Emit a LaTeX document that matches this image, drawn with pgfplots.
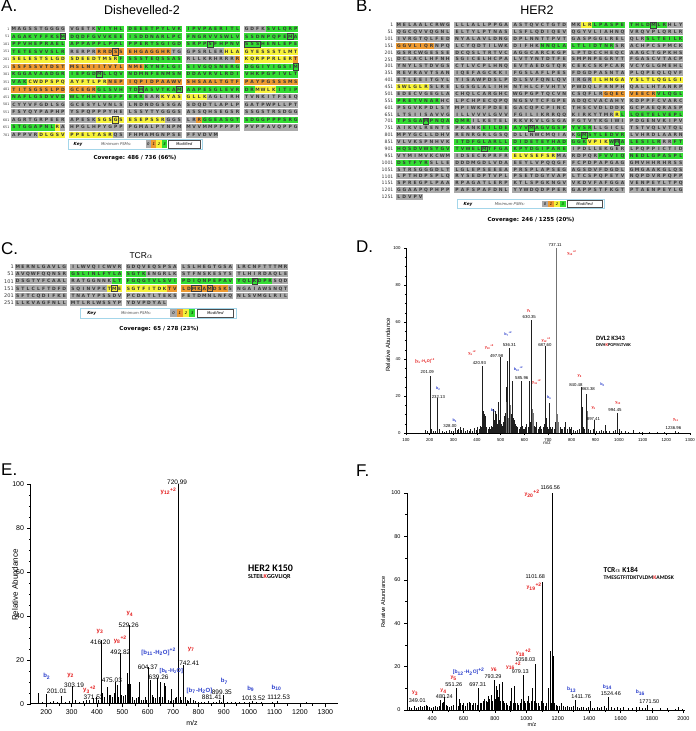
\documentclass[border=0pt]{standalone}
\usepackage{pgfplots}
\pgfplotsset{compat=1.18}
\usepackage{fontspec}
\setmainfont{Liberation Sans}
\newfontfamily\dvs{DejaVu Sans}
\newfontfamily\carl{Carlito}
\definecolor{sgray}{HTML}{ABABAB}
\definecolor{sgreen}{HTML}{33DD33}
\definecolor{syellow}{HTML}{F6F23A}
\definecolor{sorange}{HTML}{EE9A30}
\definecolor{seqtxt}{HTML}{383838}
\definecolor{keyblue}{HTML}{A4D6EA}
\definecolor{ionred}{HTML}{E41B1B}
\definecolor{ionblue}{HTML}{2A3ECC}
\newlength\cw \newlength\gw
\makeatletter
\def\seqrow#1{\seqrow@#1\relax}
\def\seqrow@#1{\ifx#1\relax\else\ifx#1|\hspace*{\gw}\else\makebox[\cw][c]{#1}\fi\expandafter\seqrow@\fi}
\makeatother
\def\seqfont{\dvs\bfseries\fontsize{4.5}{5}\selectfont}
\def\numsize{3.4}
\def\numfont{\dvs\fontsize{\numsize}{4}\selectfont}
\newcommand\srow[3]{%
 \node[anchor=east,inner sep=0pt,font=\numfont,text=seqtxt] at (axis cs:\numx,#1) {#2};
 \node[anchor=base west,inner sep=0pt,font=\seqfont,text=seqtxt,yshift=-1.6pt] at (axis cs:0,#1) {\seqrow{#3}};}
\newcommand\run[4]{\addplot[draw=#1,line width=\lw,forget plot] coordinates {(#2,#4) (#3,#4)};}
\newcommand\modb[3]{\draw[black!75,line width=0.5pt] ([yshift=-\mh]axis cs:#1,#3) rectangle ([yshift=\mh]axis cs:#2,#3);}
\newcommand\gaps[2]{%
 \addplot[draw=white,line width=\gw,forget plot] coordinates {(10.35,#1) (10.35,#2)};
 \addplot[draw=white,line width=\gw,forget plot] coordinates {(21.05,#1) (21.05,#2)};
 \addplot[draw=white,line width=\gw,forget plot] coordinates {(31.75,#1) (31.75,#2)};
 \addplot[draw=white,line width=\gw,forget plot] coordinates {(42.45,#1) (42.45,#2)};}
\newcommand\keybox[4]{%
 \begin{scope}[x=1pt,y=1pt,shift={(#1,#2)}]
 \draw[keyblue,line width=0.7pt,fill=white] (0,0) rectangle (#3,#4);
 \node[font=\dvs\bfseries\itshape\fontsize{4.2}{5}\selectfont] at ({0.075*#3},{#4/2}) {Key};
 \node[font=\dvs\itshape\fontsize{3.8}{5}\selectfont,text=black!70] at ({0.36*#3},{#4/2}) {Minimum PSMs:};
 \fill[sgray] ({0.58*#3},{0.12*#4}) rectangle ({0.62*#3},{0.88*#4});
 \fill[sorange] ({0.62*#3},{0.12*#4}) rectangle ({0.66*#3},{0.88*#4});
 \fill[syellow] ({0.66*#3},{0.12*#4}) rectangle ({0.70*#3},{0.88*#4});
 \fill[sgreen] ({0.70*#3},{0.12*#4}) rectangle ({0.74*#3},{0.88*#4});
 \node[font=\dvs\itshape\fontsize{3.8}{5}\selectfont] at ({0.60*#3},{#4/2}) {0};
 \node[font=\dvs\itshape\fontsize{3.8}{5}\selectfont] at ({0.64*#3},{#4/2}) {1};
 \node[font=\dvs\itshape\fontsize{3.8}{5}\selectfont] at ({0.68*#3},{#4/2}) {2};
 \node[font=\dvs\itshape\fontsize{3.8}{5}\selectfont] at ({0.72*#3},{#4/2}) {3};
 \draw[black!70,line width=0.4pt,fill=white] ({0.75*#3},{0.12*#4}) rectangle ({0.985*#3},{0.88*#4});
 \node[font=\dvs\itshape\fontsize{3.8}{5}\selectfont] at ({0.8675*#3},{#4/2}) {Modified};
 \end{scope}}
\newcommand\ion[3]{#1\textsubscript{#2}\textsuperscript{#3}}
\pgfplotsset{
 seqax/.style={scale only axis, anchor=north west, axis lines=none, y dir=reverse, clip=false, xmin=0, xmax=52.8},
 specax/.style={scale only axis, anchor=south west, axis x line*=bottom, axis y line*=left,
   x axis line style={-}, y axis line style={-}, tick align=outside, clip=false,
   ymin=0, ymax=100, ytick={0,20,...,100},
   /pgf/number format/assume math mode=true, /pgf/number format/1000 sep={},
   every tick/.style={black}},
}
\begin{document}
\begin{tikzpicture}
\useasboundingbox (0,0) rectangle (696pt,731pt);
% ---------- panel labels and titles
\node[anchor=north west,inner sep=0pt,font=\fontsize{17}{17}\selectfont] at (1pt,731pt) {A.};
\node[anchor=north west,inner sep=0pt,font=\fontsize{17}{17}\selectfont] at (356pt,731pt) {B.};
\node[anchor=north west,inner sep=0pt,font=\fontsize{17}{17}\selectfont] at (1pt,489pt) {C.};
\node[anchor=north west,inner sep=0pt,font=\fontsize{17}{17}\selectfont] at (356pt,490pt) {D.};
\node[anchor=north west,inner sep=0pt,font=\fontsize{17}{17}\selectfont] at (1pt,267pt) {E.};
\node[anchor=north west,inner sep=0pt,font=\fontsize{17}{17}\selectfont] at (356pt,266pt) {F.};
\node[font=\fontsize{12.5}{13}\selectfont] at (142pt,721pt) {Dishevelled-2};
\node[font=\fontsize{12.5}{13}\selectfont] at (537pt,720.5pt) {HER2};
\node[font=\fontsize{8.5}{9}\selectfont] at (141pt,475pt) {TCR$\alpha$};
% ---------- A: Dishevelled-2
\setlength\cw{5.44pt}\setlength\gw{3.81pt}\def\lw{6.5pt}\def\numx{-0.25}\def\mh{3.2pt}\def\numsize{3.3}
\begin{axis}[seqax, at={(11pt,705.8pt)}, width=287.2pt, height=113.55pt, ymin=0.5, ymax=15.5]
\pgfplotsinvokeforeach{1,...,14}{\run{sgray}{0}{52.8}{#1}}
\run{sgray}{0}{38.1}{15}
\run{sgreen}{15.7}{42.1}{1}\run{sgreen}{46.8}{52.8}{1}
\run{sgreen}{0}{52.8}{2}
\run{sgreen}{0}{52.8}{3}
\run{sgreen}{0}{10}{4}\run{sorange}{15.7}{29.4}{4}\run{syellow}{39.1}{52.8}{4}
\run{syellow}{0}{19.7}{5}\run{sgreen}{19.7}{31.4}{5}\run{sorange}{41.1}{42.1}{5}\run{syellow}{42.8}{51.8}{5}\run{sorange}{51.8}{52.8}{5}
\run{sorange}{0}{24.4}{6}\run{sgreen}{24.4}{52.8}{6}
\run{sgreen}{0}{52.8}{7}
\run{sgreen}{0}{3}{8}\run{syellow}{3}{17.7}{8}\run{sorange}{17.7}{52.8}{8}
\run{sorange}{0}{15.7}{9}\run{sgreen}{15.7}{44.8}{9}\run{syellow}{44.8}{48.8}{9}\run{sgreen}{48.8}{52.8}{9}
\run{sgreen}{0}{24.4}{10}\run{syellow}{27.4}{36.1}{10}
\run{syellow}{15.7}{28.4}{13}\run{sorange}{34.1}{35.1}{13}\run{sgreen}{35.1}{52.8}{13}
\run{sgreen}{0}{8}{14}\run{syellow}{8}{9}{14}
\run{syellow}{5}{18.7}{15}
\gaps{0.45}{15.55}
\srow{1}{1}{MAGSSTGGGG|VGETKVIYHL|DEEETPYLVK|IPVPAERITL|GDFKSVLQRP}
\srow{2}{51}{AGAKYFFKSM|DQDFGVVKEE|ISDDNARLPC|FNGRVVSWLV|SSDNPQPEMA}
\srow{3}{101}{PPVHEPRAEL|APPAPPLPPL|PPERTSGIGD|SRPPSFHPNV|SSSHENLEPE}
\srow{4}{151}{TETESVVSLR|RERPRRRDSS|EHGAGGHRTG|GPSRLERHLA|GYESSSTLMT}
\srow{5}{201}{SELESTSLGD|SDEEDTMSRF|SSSTEQSSAS|RLLKRHRRRR|KQRPPRLERT}
\srow{6}{251}{SSFSSVTDST|MSLNIITVTL|NMEKYNFLGI|SIVGQSNERG|DGGIYIGSIM}
\srow{7}{301}{KGGAVAADGR|IEPGDMLLQV|NDMNFENMSN|DDAVRVLRDI|VHKPGPIVLT}
\srow{8}{351}{VAKCWDPSPQ|AYFTLPRNEP|IQPIDPAAWV|SHSAALTGTF|PAYPGSSSMS}
\srow{9}{401}{TITSGSSLPD|GCEGRGLSVH|TDMASVTKAM|AAPESGLEVR|DRMWLKITIP}
\srow{10}{451}{NAFLGSDVVD|WLYHHVEGFP|ERREARKYAS|GLLKAGLIRH|TVNKITFSEQ}
\srow{11}{501}{CYYVFGDLSG|GCESYLVNLS|LNDNDGSSGA|SDQDTLAPLP|GATPWPLLPT}
\srow{12}{551}{FSYQYPAPHP|YSPQPPPYHE|LSSYTYGGGS|ASSQHSEGSR|SSGSTRSDGG}
\srow{13}{601}{AGRTGRPEER|APESKSGSGS|ESEPSSRGGS|LRRGGEASGT|SDGGPPPSRG}
\srow{14}{651}{STGGAPNLRA|HPGLHPYGPP|PGMALPYNPM|MVVMMPPPPP|PVPPAVQPPG}
\srow{15}{701}{APPVRDLGSV|PPELTASRQS|FHMAMGNPSE|FFVDVM}
\modb{9}{10}{2}\modb{50.8}{51.8}{2}\modb{36.1}{37.1}{3}\modb{42.8}{45.8}{3}
\modb{18.7}{19.7}{4}\modb{51.8}{52.8}{6}\modb{15.7}{16.7}{7}\modb{23.4}{24.4}{9}
\modb{30.4}{31.4}{9}\modb{18.7}{19.7}{13}
\end{axis}
\keybox{68}{582}{134}{10}
\node[font=\dvs\bfseries\fontsize{5.5}{6}\selectfont] at (135pt,572.5pt) {Coverage: 486 / 736 (66\%)};
% ---------- B: HER2
\setlength\cw{5.44pt}\setlength\gw{3.81pt}\def\lw{5.9pt}\def\numx{-0.45}\def\mh{2.9pt}\def\numsize{4.6}
\begin{axis}[seqax, at={(396pt,709.44pt)}, width=287.2pt, height=178.9pt, ymin=0.5, ymax=26.5]
\pgfplotsinvokeforeach{1,...,25}{\run{sgray}{0}{52.8}{#1}}
\run{sgray}{0}{5}{26}
\run{syellow}{34.1}{36.1}{1}\run{sgreen}{36.1}{49.8}{1}
\run{sgreen}{45.8}{52.8}{3}
\run{sorange}{0}{7}{4}\run{sgreen}{26.4}{40.1}{4}
\run{syellow}{36.1}{52.8}{9}
\run{syellow}{0}{6}{10}
\run{sorange}{38.1}{47.8}{11}\run{sgreen}{47.8}{52.8}{11}
\run{sgreen}{0}{8}{12}
\run{syellow}{40.1}{41.1}{14}\run{sgreen}{41.1}{52.8}{14}
\run{sgreen}{0}{13.7}{15}
\run{sgreen}{15.7}{36.1}{16}
\run{sgreen}{33.1}{42.1}{17}
\run{sgreen}{10.7}{35.1}{18}\run{syellow}{35.1}{39.1}{18}\run{sgreen}{39.1}{48.8}{18}\run{sgreen}{50.8}{52.8}{18}
\run{sgreen}{0}{31.4}{19}
\run{syellow}{21.4}{29.4}{20}\run{sgreen}{37.1}{52.8}{20}
\run{sgreen}{0}{6}{21}
\gaps{0.45}{26.55}
\srow{1}{1}{MELAALCRWG|LLLALLPPGA|ASTQVCTGTD|MKLRLPASPE|THLDMLRHLY}
\srow{2}{51}{QGCQVVQGNL|ELTYLPTNAS|LSFLQDIQEV|QGYVLIAHNQ|VRQVPLQRLR}
\srow{3}{101}{IVRGTQLFED|NYALAVLDNG|DPLNNTTPVT|GASPGGLREL|QLRSLTEILK}
\srow{4}{151}{GGVLIQRNPQ|LCYQDTILWK|DIFHKNNQLA|LTLIDTNRSR|ACHPCSPMCK}
\srow{5}{201}{GSRCWGESSE|DCQSLTRTVC|AGGCARCKGP|LPTDCCHEQC|AAGCTGPKHS}
\srow{6}{251}{DCLACLHFNH|SGICELHCPA|LVTYNTDTFE|SMPNPEGRYT|FGASCVTACP}
\srow{7}{301}{YNYLSTDVGS|CTLVCPLHNQ|EVTAEDGTQR|CEKCSKPCAR|VCYGLGMEHL}
\srow{8}{351}{REVRAVTSAN|IQEFAGCKKI|FGSLAFLPES|FDGDPASNTA|PLQPEQLQVF}
\srow{9}{401}{ETLEEITGYL|YISAWPDSLP|DLSVFQNLQV|IRGRILHNGA|YSLTLQGLGI}
\srow{10}{451}{SWLGLRSLRE|LGSGLALIHH|NTHLCFVHTV|PWDQLFRNPH|QALLHTANRP}
\srow{11}{501}{EDECVGEGLA|CHQLCARGHC|WGPGPTQCVN|CSQFLRGQEC|VEECRVLQGL}
\srow{12}{551}{PREYVNARHC|LPCHPECQPQ|NGSVTCFGPE|ADQCVACAHY|KDPPFCVARC}
\srow{13}{601}{PSGVKPDLSY|MPIWKFPDEE|GACQPCPINC|THSCVDLDDK|GCPAEQRASP}
\srow{14}{651}{LTSIISAVVG|ILLVVVLGVV|FGILIKRRQQ|KIRKYTMRRL|LQETELVEPL}
\srow{15}{701}{TPSGAMPNQA|QMRILKETEL|RKVKVLGSGA|FGTVYKGIWI|PDGENVKIPV}
\srow{16}{751}{AIKVLRENTS|PKANKEILDE|AYVMAGVGSP|YVSRLLGICL|TSTVQLVTQL}
\srow{17}{801}{MPYGCLLDHV|RENRGRLGSQ|DLLNWCMQIA|KGMSYLEDVR|LVHRDLAARN}
\srow{18}{851}{VLVKSPNHVK|ITDFGLARLL|DIDETEYHAD|GGKVPIKWMA|LESILRRRFT}
\srow{19}{901}{HQSDVWSYGV|TVWELMTFGA|KPYDGIPARE|IPDLLEKGER|LPQPPICTID}
\srow{20}{951}{VYMIMVKCWM|IDSECRPRFR|ELVSEFSRMA|RDPQRFVVIQ|NEDLGPASPL}
\srow{21}{1001}{DSTFYRSLLE|DDDMGDLVDA|EEYLVPQQGF|FCPDPAPGAG|GMVHHRHRSS}
\srow{22}{1051}{STRSGGGDLT|LGLEPSEEEA|PRSPLAPSEG|AGSDVFDGDL|GMGAAKGLQS}
\srow{23}{1101}{LPTHDPSPLQ|RYSEDPTVPL|PSETDGYVAP|LTCSPQPEYV|NQPDVRPQPP}
\srow{24}{1151}{SPREGPLPAA|RPAGATLERP|KTLSPGKNGV|VKDVFAFGGA|VENPEYLTPQ}
\srow{25}{1201}{GGAAPQPHPP|PAFSPAFDNL|YYWDQDPPER|GAPPSTFKGT|PTAENPEYLG}
\srow{26}{1251}{LDVPV}
\modb{46.8}{47.8}{1}\modb{5}{6}{15}\modb{24.4}{25.4}{16}\modb{34.1}{35.1}{17}
\modb{40.1}{41.1}{18}\modb{15.7}{16.7}{19}
\end{axis}
\keybox{457}{522.5}{147}{9}
\node[font=\dvs\bfseries\fontsize{5.5}{6}\selectfont] at (531pt,510.5pt) {Coverage: 246 / 1255 (20\%)};
% ---------- C: TCR alpha
\setlength\cw{5.17pt}\setlength\gw{3.62pt}\def\lw{6.2pt}\def\numx{-0.2}\def\mh{3.1pt}\def\numsize{5}
\begin{axis}[seqax, at={(15pt,467.6pt)}, width=273pt, height=43.2pt, ymin=0.5, ymax=6.5]
\pgfplotsinvokeforeach{1,...,5}{\run{sgray}{0}{52.8}{#1}}
\run{sgray}{0}{29.4}{6}
\run{sgreen}{10.7}{25.4}{2}
\run{sgreen}{18.7}{49.8}{3}
\run{syellow}{17.7}{29.4}{4}\run{sorange}{29.4}{41.1}{4}
\gaps{0.45}{6.55}
\srow{1}{1}{MERNLGAVLG|ILWVQICWVR|GDQVEQSPSA|LSLHEGTGSA|LRCNFTTTMR}
\srow{2}{51}{AVQWFQQNSR|GSLINLFYLA|SGTKENGRLK|STFNSKESYS|TLHIRDAQLE}
\srow{3}{101}{DSGTYFCAAL|RATGGNNKLT|FGQGTVLSVI|PDIQNPEPAV|YQLKDPRSQD}
\srow{4}{151}{STLCLFTDFD|SQINVPKTME|SGTFITDKTV|LDMKAMDSKS|NGAIAWSNQT}
\srow{5}{201}{SFTCQDIFKE|TNATYPSSDV|PCDATLTEKS|FETDMNLNFQ|NLSVMGLRIL}
\srow{6}{251}{LLKVAGFNLL|MTLRLWSSYP|YDVPDYAL}
\modb{45.8}{46.8}{3}\modb{18.7}{19.7}{4}\modb{34.1}{36.1}{4}\modb{37.1}{38.1}{4}
\end{axis}
\keybox{80}{413}{156}{10}
\node[font=\dvs\bfseries\fontsize{5.5}{6}\selectfont] at (159pt,401.5pt) {Coverage: 65 / 278 (23\%)};
% ---------- D: DVL2 spectrum
\begin{axis}[specax, at={(406pt,298pt)}, width=284pt, height=185pt, xmin=100, xmax=1300,
  xtick={100,200,...,1300}, minor x tick num=1, minor y tick num=3,
  ticklabel style={font=\fontsize{4.3}{5}\selectfont},
  major tick length=2pt, minor tick length=1.2pt, axis line style={line width=0.5pt}]
\addplot[ycomb, draw=black!88, line width=0.55pt] coordinates {
(183,1.5)(190,1)(201,31)(208,2)(215,1.2)(225,1)(232,19)(240,2)(252,1)(262,0.8)(270,1)(281,1.5)(290,1)(300,1.2)
(308,2.5)(315,1.5)(322,2)(328,3.5)(335,1.5)(342,2.5)(350,1)(358,1.5)(366,1.2)(373,2)(380,1)(387,2.5)(395,1.5)
(402,3)(408,2)(413,4)(417,3)(421,36)(425,12)(430,10)(434,9)(440,3)(446,2)(452,3)(458,2)(462,4)(466,3)(470,13)
(474,7)(478,12)(482,10)(486,5)(491,17)(495,7)(498,41)(502,5)(506,4)(510,6)(514,9)(518,11)(522,25)(529,39)
(536,46)(543,10)(547,7)(551,28)(555,8)(559,7)(563,5)(567,4)(572,3)(577,2)(582,3)(586,28)(590,4)(595,2)(600,2)
(605,3)(610,5)(615,3)(621,28)(626,6)(630,61)(643,4)(648,3)(652,6)(657,2)(662,3)(668,4)(673,2)(680,3)(684,5)
(688,47)(692,8)(697,3)(701,2)(705,16)(710,3)(715,2)(720,3)(725,2)(731,6)(750,3)(756,2)(762,2)(768,3)(775,6)
(782,2)(788,3)(795,2)(800,3)(806,1.5)(815,1)(825,1.5)(833,2)(840,25)(844,14)(850,3)(855,2)(862,21)(872,2)
(880,1.5)(890,2)(897,7)(905,1)(915,1)(925,1.5)(932,1)(940,4.5)(948,1)(960,1)(975,1)(985,1.5)(994,11)(1000,2)
(1010,1)(1025,1)(1040,0.8)(1060,1.5)(1085,0.8)(1100,0.8)(1130,0.6)(1160,0.8)(1190,0.6)(1236,1)(1250,0.6)};
\addplot[ycomb, draw=black!55, line width=0.7pt] coordinates {
(526,17)(532,8)(539,15)(634,13)(638,11)(737,100)(741,10)(745,6)(866,12)};
\begin{scope}[font=\fontsize{4.3}{5}\selectfont]
\node at (axis cs:190,33) {201.09};
\node at (axis cs:237,19.5) {232.13};
\node at (axis cs:286,3.8) {328.00};
\node at (axis cs:410,37.8) {420.93};
\node at (axis cs:483,41.6) {497.98};
\node at (axis cs:537,47.5) {536.31};
\node at (axis cs:589,29.5) {585.96};
\node at (axis cs:621,62.5) {630.35};
\node at (axis cs:687,47.8) {687.60};
\node at (axis cs:730,101.5) {737.11};
\node at (axis cs:818,26.2) {840.48};
\node at (axis cs:870,23.8) {863.38};
\node at (axis cs:892,7.8) {897.41};
\node at (axis cs:983,12.6) {994.45};
\node at (axis cs:1230,2.5) {1236.96};
\end{scope}
\begin{scope}[font=\bfseries\fontsize{3.8}{4.5}\selectfont]
\node[text=ionred] at (axis cs:180,39) {[\ion{y}{6}{}-H\textsubscript{2}O]\textsuperscript{+2}};
\node[text=ionblue] at (axis cs:237,23.8) {\ion{b}{2}{}};
\node[text=ionblue] at (axis cs:307,6.8) {\ion{b}{3}{}};
\node[text=ionred] at (axis cs:380,43.2) {\ion{y}{6}{+2}};
\node[text=ionred] at (axis cs:452,46.3) {\ion{y}{10}{+2}};
\node[text=ionblue] at (axis cs:469,12.3) {\ion{b}{9}{}};
\node[text=ionblue] at (axis cs:532,53.3) {\ion{b}{7}{+2}};
\node[text=ionblue] at (axis cs:575,34.3) {\ion{b}{10}{+2}};
\node[text=ionred] at (axis cs:620,66) {\ion{y}{5}{}};
\node[text=ionred] at (axis cs:652,27.4) {\ion{y}{11}{+2}};
\node[text=ionred] at (axis cs:692,50) {\ion{y}{12}{+2}};
\node[text=ionblue] at (axis cs:706,19.3) {\ion{b}{6}{}};
\node[text=ionred] at (axis cs:801,97) {\ion{y}{13}{+2}};
\node[text=ionred] at (axis cs:835,31) {\ion{y}{8}{}};
\node[text=ionblue] at (axis cs:931,26) {\ion{b}{8}{}};
\node[text=ionred] at (axis cs:894,13.3) {\ion{y}{9}{}};
\node[text=ionred] at (axis cs:997,16.3) {\ion{y}{10}{}};
\node[text=ionred] at (axis cs:1241,6.8) {\ion{y}{11}{}};
\end{scope}
\node[anchor=west,font=\carl\bfseries\fontsize{6.5}{7}\selectfont] at (axis cs:888,51) {DVL2 K343};
\node[anchor=west,font=\carl\bfseries\fontsize{4.5}{5}\selectfont] at (axis cs:888,47.3) {DIVH\textcolor{ionred}{K}PGPIVLTVAK};
\end{axis}
\node[rotate=90,font=\fontsize{6}{7}\selectfont] at (388pt,386pt) {Relative Abundance};
\node[font=\fontsize{4.5}{5}\selectfont] at (547pt,288pt) {m/z};
% ---------- E: HER2 spectrum
\begin{axis}[specax, at={(31pt,27pt)}, width=307pt, height=220pt, xmin=140, xmax=1350,
  xtick={200,300,...,1300}, minor x tick num=1, minor y tick num=3,
  ticklabel style={font=\fontsize{7}{8}\selectfont},
  xticklabel style={yshift=1.5pt},
  major tick length=3.5pt, minor tick length=2pt, axis line style={line width=1pt}]
\addplot[ycomb, draw=black, line width=1pt] coordinates {
(170,5)(185,1)(201,4.5)(215,1)(230,1.5)(245,1)(262,3.5)(275,1)(290,1.5)(303,8)(315,2)(330,1)(345,1.5)(358,2)
(371,2)(385,2.5)(398,3)(405,2)(416,29)(422,5)(430,3)(441,7.7)(448,4)(455,4)(462,3)(470,5)(475,10)(479,8.5)
(485,3)(493,23)(498,4)(505,3.5)(512,4)(519,14)(524,9)(529,36)(533,9)(540,3)(547,2)(555,2.5)(562,3)(568,10)
(575,2)(582,2)(590,3)(597,2)(604,16.7)(610,11)(617,4)(623,3)(630,2.5)(639,11.8)(645,3)(652,10)(658,3)(665,9.5)
(672,8)(680,2)(688,1.5)(695,7)(702,2)(710,2.5)(715,3)(721,100)(728,3)(735,2)(742,17.6)(748,3)(755,2)(762,1.5)
(770,2.5)(780,2)(790,1.5)(800,1)(812,1)(825,1)(840,1.5)(858,1)(870,1)(881,2)(892,1)(899,4)(915,1)(930,1)(945,1)
(960,0.8)(980,0.8)(1000,1)(1013,1.5)(1030,0.8)(1050,0.8)(1070,0.6)(1090,0.8)(1112,1.5)(1130,0.6)(1160,0.6)
(1190,0.5)(1225,0.8)(1265,0.5)};
\begin{scope}[font=\fontsize{6.5}{7.5}\selectfont]
\node at (axis cs:716,101) {720.99};
\node at (axis cs:525,36) {529.26};
\node at (axis cs:413,28) {416.20};
\node at (axis cs:492,23.4) {492.82};
\node at (axis cs:600,16.6) {604.37};
\node at (axis cs:764,18.6) {742.41};
\node at (axis cs:643,12.2) {639.26};
\node at (axis cs:459,10.8) {475.03};
\node at (axis cs:242,6) {201.01};
\node at (axis cs:310,8.5) {303.19};
\node at (axis cs:387,2.9) {371.53};
\node at (axis cs:853,2.9) {881.41};
\node at (axis cs:892,5.2) {899.35};
\node at (axis cs:1017,2.6) {1013.52};
\node at (axis cs:1116,2.9) {1112.53};
\end{scope}
\begin{scope}[font=\bfseries\fontsize{6}{7}\selectfont]
\node[text=ionred] at (axis cs:682,96.7) {\ion{y}{12}{+2}};
\node[text=ionred] at (axis cs:413,33) {\ion{y}{3}{}};
\node[text=ionred] at (axis cs:492,29) {\ion{y}{8}{+2}};
\node[text=ionred] at (axis cs:531,41) {\ion{y}{4}{}};
\node[text=ionblue] at (axis cs:643,23.6) {[\ion{b}{11}{}-H\textsubscript{2}O]\textsuperscript{+2}};
\node[text=ionblue,font=\bfseries\fontsize{5.6}{6.5}\selectfont] at (axis cs:693,15.0) {[\ion{b}{6}{}-H\textsubscript{2}O]};
\node[text=ionred] at (axis cs:772,24.8) {\ion{y}{7}{}};
\node[text=ionblue] at (axis cs:203,12.6) {\ion{b}{2}{}};
\node[text=ionred] at (axis cs:297,13) {\ion{y}{2}{}};
\node[text=ionred] at (axis cs:371,6.5) {\ion{y}{3}{+2}};
\node[text=ionblue] at (axis cs:804,6) {[\ion{b}{7}{}-H\textsubscript{2}O]};
\node[text=ionblue] at (axis cs:903,10.3) {\ion{b}{7}{}};
\node[text=ionblue] at (axis cs:1007,7) {\ion{b}{9}{}};
\node[text=ionblue] at (axis cs:1109,7.3) {\ion{b}{10}{}};
\end{scope}
\node[anchor=west,font=\carl\bfseries\fontsize{10}{11}\selectfont] at (axis cs:982,61.5) {HER2 K150};
\node[anchor=west,font=\carl\bfseries\fontsize{6.2}{7}\selectfont] at (axis cs:982,57.6) {SLTEIL\textcolor{ionred}{K}GGVLIQR};
\end{axis}
\node[rotate=90,font=\fontsize{8}{9}\selectfont] at (15pt,146pt) {Relative Abundance};
\node[font=\fontsize{7}{8}\selectfont] at (192pt,8.5pt) {m/z};
% ---------- F: TCR alpha spectrum
\begin{axis}[specax, at={(407pt,21pt)}, width=278pt, height=217pt, xmin=240, xmax=2010,
  xtick={400,600,...,2000}, minor x tick num=1, minor y tick num=1,
  ticklabel style={font=\fontsize{5.5}{6.5}\selectfont},
  major tick length=3pt, minor tick length=2pt, axis line style={line width=0.8pt}]
\addplot[ycomb, draw=black, line width=0.7pt] coordinates {
(255,1.5)(270,1)(285,2)(300,1)(310,1.5)(325,2)(340,1.5)(349,2)(360,2.5)(372,2)(385,1.5)(395,1)(410,1.5)(420,2)
(432,1.5)(445,2)(455,4.5)(462,3)(470,3.5)(480,6)(490,2.5)(500,2)(512,1.5)(525,2)(538,2.5)(551,10)(557,3)(565,2)
(572,5)(580,3)(590,2.5)(600,3)(612,2)(625,3)(635,3.5)(645,3)(655,2.5)(665,3)(675,3)(685,2.5)(697,10)(705,3)
(715,3)(725,4)(735,5)(742,4)(750,3.5)(758,6.5)(765,5)(775,7)(783,4)(793,13.6)(800,5)(808,11)(815,9)(822,6)
(828,12)(836,4)(845,12.8)(852,4)(860,3)(870,3)(880,2.5)(890,2)(900,4)(907,10)(915,3)(924,11)(932,3)(940,3)
(950,2.5)(960,3)(970,5)(979,16)(986,4)(995,3)(1005,4)(1015,6.5)(1022,3)(1030,4)(1040,10)(1048,4)(1058,21)
(1065,3)(1075,3)(1085,2)(1094,4)(1101,59)(1108,3)(1118,2)(1130,3)(1140,10)(1150,27)(1158,3)(1166,100)(1172,25)
(1180,3)(1190,2.5)(1200,2)(1212,2)(1225,3)(1235,2)(1248,1.5)(1260,2)(1272,1.5)(1285,1.5)(1297,2)(1310,4.5)
(1322,1.5)(1335,1)(1350,1.5)(1365,1.5)(1380,1)(1395,1.5)(1408,4)(1420,1)(1435,1)(1450,1.5)(1465,1)(1480,1.5)
(1495,2)(1510,1)(1524,6)(1540,1.5)(1560,1)(1580,1.5)(1600,1)(1620,1.5)(1650,1)(1675,1)(1700,1.5)(1720,1.5)
(1740,1)(1760,1)(1771,2.5)(1800,1)(1850,0.8)(1900,0.8)(1950,0.6)(1968,1.5)(1990,0.5)};
\begin{scope}[font=\fontsize{5.5}{6.5}\selectfont]
\node at (axis cs:1152,102.5) {1166.56};
\node at (axis cs:1057,61.5) {1101.68};
\node at (axis cs:993,23) {1058.03};
\node at (axis cs:961,17.8) {979.13};
\node at (axis cs:788,15.3) {793.29};
\node at (axis cs:538,11.7) {551.26};
\node at (axis cs:690,11.7) {697.31};
\node at (axis cs:478,6.3) {480.24};
\node at (axis cs:305,4.2) {349.01};
\node at (axis cs:1349,6.3) {1411.76};
\node at (axis cs:1538,7.4) {1524.46};
\node at (axis cs:1783,4) {1771.50};
\end{scope}
\begin{scope}[font=\bfseries\fontsize{5}{6}\selectfont]
\node[text=ionred] at (axis cs:1036,99.7) {\ion{y}{20}{+2}};
\node[text=ionred] at (axis cs:1050,56.7) {\ion{y}{19}{+2}};
\node[text=ionred] at (axis cs:983,26.5) {\ion{y}{18}{+2}};
\node[text=ionred] at (axis cs:919,20.2) {\ion{y}{16}{+2}};
\node[text=ionred] at (axis cs:796,18.6) {\ion{y}{6}{}};
\node[text=ionblue] at (axis cs:633,17.8) {[\ion{b}{12}{}-H\textsubscript{2}O]\textsuperscript{+2}};
\node[text=ionred] at (axis cs:538,14.8) {\ion{y}{5}{}};
\node[text=ionred] at (axis cs:474,8.6) {\ion{y}{4}{}};
\node[text=ionred] at (axis cs:294,7.9) {\ion{y}{3}{}};
\node[text=ionblue] at (axis cs:1290,9.4) {\ion{b}{13}{}};
\node[text=ionblue] at (axis cs:1517,10.5) {\ion{b}{14}{}};
\node[text=ionblue] at (axis cs:1728,7.9) {\ion{b}{16}{}};
\end{scope}
\node[anchor=west,font=\carl\bfseries\fontsize{7.5}{8}\selectfont] at (axis cs:1470,64.4) {TCR$\alpha$ K184};
\node[anchor=west,font=\carl\bfseries\fontsize{5.6}{6}\selectfont] at (axis cs:1470,60.9) {TMESGTFITDKTVLDM\textcolor{ionred}{K}AMDSK};
\end{axis}
\node[rotate=90,font=\fontsize{5.7}{6.5}\selectfont] at (383pt,129pt) {Relative Abundance};
\node[font=\fontsize{5.5}{6.5}\selectfont] at (532pt,6pt) {m/z};
\end{tikzpicture}
\end{document}
